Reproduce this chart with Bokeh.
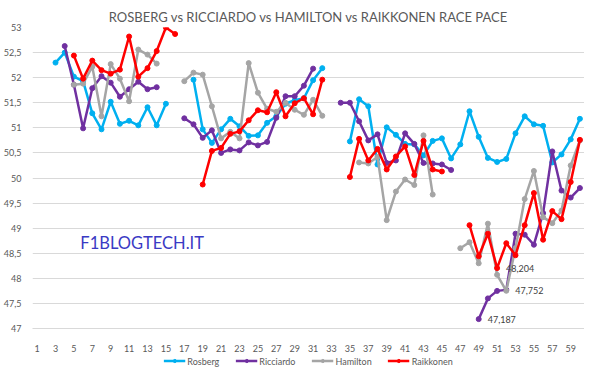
import math
from bokeh.plotting import figure
from bokeh.layouts import column
from bokeh.models import (FixedTicker, CustomJSTickFormatter, Legend, LegendItem,
                          Label, ColumnDataSource, Range1d)
from bokeh.core.properties import value
from bokeh.embed import file_html
from bokeh.resources import INLINE

nan = float("nan")
laps = list(range(1, 61))

rosberg = [nan, nan, 52.30, 52.50, 52.02, 51.93, 51.29, 50.97, 51.52, 51.08,
           51.14, 51.05, 51.41, 51.05, 51.48, nan, nan, 51.96, 50.97, 50.70,
           50.97, 51.18, 51.03, 50.84, 50.85, 51.10, 51.23, 51.48, 51.55, 51.59,
           51.95, 52.19, nan, nan, 50.73, 51.57, 51.43, 50.27, 51.01, 50.86,
           50.68, 50.67, 50.45, 50.74, 50.79, 50.39, 50.67, 51.33, 50.82, 50.40,
           50.32, 50.38, 50.89, 51.23, 51.07, 51.04, 50.31, 50.47, 50.77, 51.18]

ricciardo = [nan, nan, nan, 52.63, 51.86, 50.99, 51.79, 52.03, 51.90, 51.62,
             51.77, 51.92, 51.77, 51.81, nan, nan, 51.19, 51.07, 50.80, 50.95,
             50.50, 50.57, 50.55, 50.71, 50.65, 50.72, 51.20, 51.63, 51.63, 51.84,
             52.18, nan, nan, 51.50, 51.50, 51.13, 50.75, 50.87, 50.30, 50.35,
             50.89, 50.68, 50.30, 50.29, 50.27, 50.16, nan, nan, 47.187, 47.60,
             47.75, 47.77, 48.89, 48.87, 48.67, 49.30, 50.53, 49.75, 49.61, 49.80]

hamilton = [nan, nan, nan, nan, 51.86, 51.88, 52.22, 51.23, 52.27, 51.98,
            51.53, 52.56, 52.46, 52.28, nan, nan, 51.93, 52.10, 52.06, 51.43,
            50.79, 50.92, 50.79, 52.29, 51.70, 51.38, 51.32, 51.50, 51.36, 51.26,
            51.56, 51.24, nan, nan, nan, 50.31, 50.29, 50.42, 49.16, 49.73,
            49.97, 49.86, 50.85, 49.67, nan, nan, 48.60, 48.72, 48.30, 49.09,
            48.07, 47.752, 48.60, 49.58, 50.14, 49.22, 49.10, 49.35, 50.25, 50.75]

raikkonen = [nan, nan, nan, nan, 52.44, 51.98, 52.34, 52.15, 52.08, 52.16,
             52.82, 52.02, 52.19, 52.53, 53.00, 52.87, nan, nan, 49.87, 50.54,
             50.60, 50.88, 50.93, 51.15, 51.35, 51.31, 51.71, 51.23, 51.49, 51.59,
             51.27, 51.96, nan, nan, 50.02, 50.78, 50.35, 50.58, 50.17, 50.43,
             50.63, 50.06, 50.74, 50.17, 50.13, nan, nan, 49.06, 48.44, 48.89,
             48.204, 48.70, 48.46, 49.06, 49.70, 48.77, 49.34, 49.18, 49.92, 50.76]

names = ["Rosberg", "Ricciardo", "Hamilton", "Raikkonen"]
series = [rosberg, ricciardo, hamilton, raikkonen]
colors = ["#00B0F0", "#7030A0", "#A5A5A5", "#FF0000"]
labelled = ["Ricciardo", "Hamilton", "Raikkonen"]   # series whose fastest lap is annotated

x_ticks = list(range(1, 61, 2))
y_ticks = [47 + 0.5 * i for i in range(13)]

FONT = "Lato"
TXT = "#595959"

p = figure(width=584, height=354, x_range=Range1d(0.5, 60.5), y_range=Range1d(47, 53),
           output_backend="svg", toolbar_location=None,
           min_border_left=20, min_border_right=0, min_border_top=27, min_border_bottom=22)

p.title.text = "ROSBERG vs RICCIARDO vs HAMILTON vs RAIKKONEN RACE PACE"
p.title.align = "center"
p.title.text_font = FONT
p.title.text_font_size = "13px"
p.title.text_font_style = "normal"
p.title.text_color = TXT
p.title.standoff = 6

p.outline_line_color = None
p.background_fill_color = "white"
p.xgrid.grid_line_color = None
p.ygrid.grid_line_color = "#D9D9D9"
p.ygrid.ticker = FixedTicker(ticks=y_ticks)

p.xaxis.ticker = FixedTicker(ticks=x_ticks)
p.yaxis.ticker = FixedTicker(ticks=y_ticks)
p.yaxis.formatter = CustomJSTickFormatter(code="return String(tick).replace('.', ',');")
for ax in (p.xaxis, p.yaxis):
    ax.major_tick_line_color = None
    ax.minor_tick_line_color = None
    ax.major_label_text_font = FONT
    ax.major_label_text_font_size = "9px"
    ax.major_label_text_color = TXT
p.xaxis.axis_line_color = "#D9D9D9"
p.yaxis.axis_line_color = None
p.xaxis.major_label_standoff = 10
p.yaxis.major_label_standoff = 5

# legend strip below the chart (same sources; its 0..1 ranges show no data, only the legend)
pl = figure(width=584, height=13, x_range=Range1d(0, 1), y_range=Range1d(0, 1),
            output_backend="svg", toolbar_location=None, x_axis_type=None, y_axis_type=None,
            min_border_left=0, min_border_right=0, min_border_top=0, min_border_bottom=0)
pl.outline_line_color = None
pl.xgrid.grid_line_color = None
pl.ygrid.grid_line_color = None

items = []
for name, vals, col in zip(names, series, colors):
    src = ColumnDataSource(dict(x=laps, y=vals))
    p.line("x", "y", source=src, line_color=col, line_width=2.5)
    p.scatter("x", "y", source=src, size=5, fill_color=col, line_color=col)
    lk = pl.line("x", "y", source=src, line_color=col, line_width=2.5)
    mk = pl.scatter("x", "y", source=src, size=5, fill_color=col, line_color=col)
    items.append(LegendItem(label=name, renderers=[lk, mk]))
    if name in labelled:
        valid = [(v, l) for v, l in zip(vals, laps) if not math.isnan(v)]
        vmin, lmin = min(valid)
        txt = ("%.3f" % vmin).replace(".", ",")
        p.text(x=[lmin], y=[vmin], text=[txt], x_offset=9, text_baseline="middle",
               text_font=value(FONT), text_font_size="9px", text_color="#404040")

legend = Legend(items=items, orientation="horizontal", location="center")
legend.label_text_font = FONT
legend.label_text_font_size = "9px"
legend.label_text_color = TXT
legend.glyph_width = 22
legend.glyph_height = 8
legend.spacing = 16
legend.padding = 0
legend.margin = 0
legend.label_standoff = 2
legend.border_line_color = None
legend.background_fill_alpha = 0
pl.add_layout(legend)

wm = Label(x=5.7, y=48.71, text="F1BLOGTECH.IT", text_font=FONT, text_font_size="16.5px",
           text_color="#3A3AC4", text_baseline="middle")
p.add_layout(wm)

open("out.html", "w").write(file_html(column(p, pl, spacing=0), INLINE))
